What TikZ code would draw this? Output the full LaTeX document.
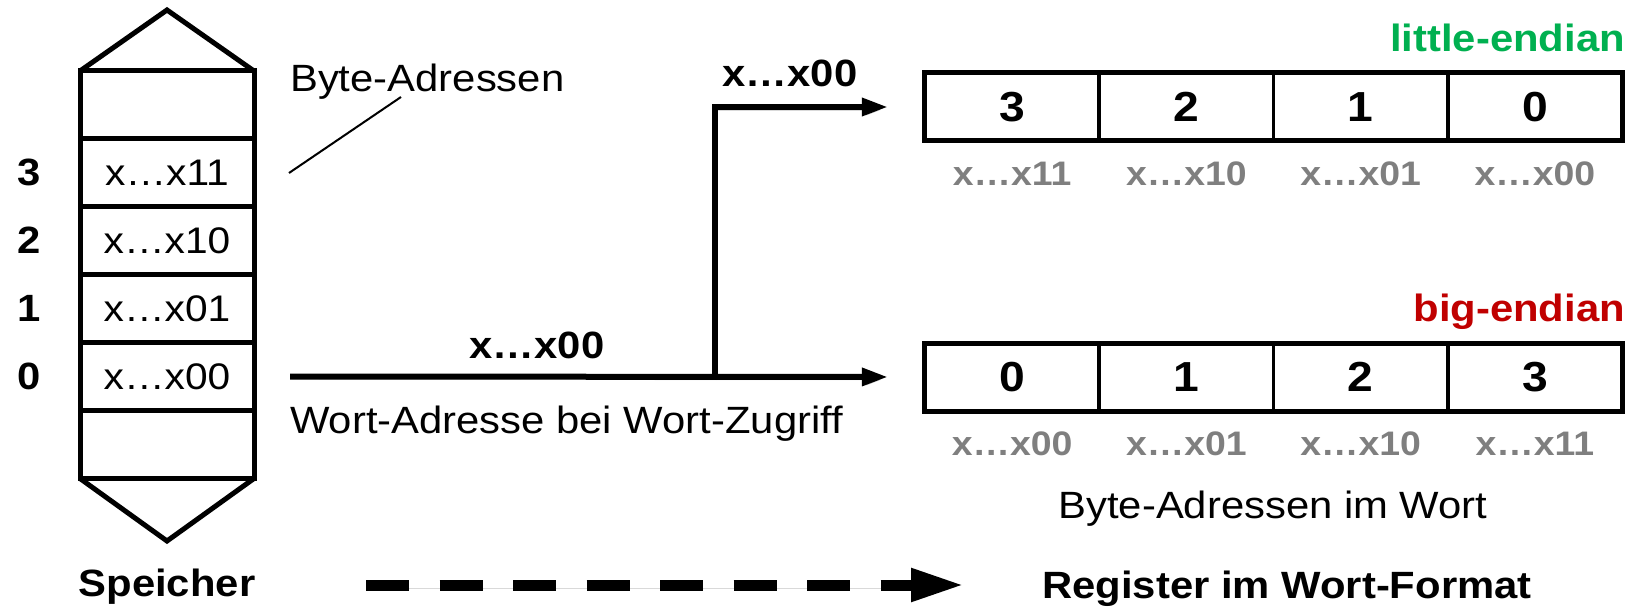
\documentclass[tikz,border=0pt]{standalone}
\usepackage{fontspec}
\setmainfont{Liberation Sans}[FakeStretch=1.1]
\usetikzlibrary{arrows.meta,calc}
\definecolor{legreen}{HTML}{00B050}
\definecolor{bered}{HTML}{C00000}
\definecolor{addrgray}{HTML}{7F7F7F}

\tikzset{
  txt/.style={font=\fontsize{38}{44}\selectfont, inner sep=0pt},
  txtbf/.style={font=\fontsize{38}{44}\selectfont\bfseries, inner sep=0pt},
  memcell/.style={draw, line width=5pt, minimum width=174pt, minimum height=68pt,
    inner sep=0pt, outer sep=0pt, font=\fontsize{37}{43}\selectfont},
  regcell/.style={draw, line width=3.5pt, minimum width=174.25pt, minimum height=68pt,
    inner sep=0pt, outer sep=0pt, font=\fontsize{42}{48}\selectfont\bfseries},
  graylabel/.style={font=\fontsize{34}{40}\selectfont\bfseries, text=addrgray,
    anchor=base, inner sep=0pt},
  shadowed/.style={preaction={draw=black, draw opacity=0.15, fill opacity=0.15,
    transform canvas={shift={(1.5pt,-3pt)}}}},
  busarrow/.style={line width=6pt, line join=miter, shadowed,
    -{Triangle[length=26pt,width=17pt]}},
  flowarrow/.style={line width=11pt, dash pattern=on 43pt off 30.5pt, shadowed,
    -{Triangle[length=53pt,width=31pt]}},
}

\begin{document}
\begin{tikzpicture}[x=1pt,y=-1pt]
\useasboundingbox (0,0) rectangle (1641,607);

% memory column
\node[memcell] (mtop) at (167,105) {};
\node[memcell] (m3) at (167,172.5) {x…x11};
\node[memcell] (m2) at (167,240.5) {x…x10};
\node[memcell] (m1) at (167,308.5) {x…x01};
\node[memcell] (m0) at (167,376.5) {x…x00};
\node[memcell] (mbot) at (167,444.5) {};
\coordinate (apexT) at (167,10);
\coordinate (apexB) at (167,541);
\draw[line width=5pt, line join=miter] (mtop.north west) -- (apexT) -- (mtop.north east);
\draw[line width=5pt, line join=miter] (mbot.south west) -- (apexB) -- (mbot.south east);

% byte numbers beside the memory cells
\node[txtbf] (n3) at (29,172.5) {3};
\node[txtbf] (n2) at (29,240.5) {2};
\node[txtbf] (n1) at (29,308.5) {1};
\node[txtbf] (n0) at (29,376.5) {0};

% byte address annotation
\node[txt, anchor=base west] (byteaddr) at (290,92) {Byte-Adressen};
\coordinate (leadA) at (401,97);
\coordinate (leadB) at (289,173);
\draw[line width=2pt] (leadA) -- (leadB);

% registers
\node[regcell] (lA) at (1012.1,107) {3};
\node[regcell] (lB) at (1186.4,107) {2};
\node[regcell] (lC) at (1360.6,107) {1};
\node[regcell] (lD) at (1534.9,107) {0};
\draw[line width=5pt] (lA.north west) rectangle (lD.south east);

\node[regcell] (bA) at (1012.1,377) {0};
\node[regcell] (bB) at (1186.4,377) {1};
\node[regcell] (bC) at (1360.6,377) {2};
\node[regcell] (bD) at (1534.9,377) {3};
\draw[line width=5pt] (bA.north west) rectangle (bD.south east);

\node[txtbf, text=legreen, anchor=base east] (little) at (1625,52) {little-endian};
\node[txtbf, text=bered, anchor=base east] (big) at (1625,321) {big-endian};

% byte addresses under the registers
\node[graylabel] (glA) at (1012.1,185) {x…x11};
\node[graylabel] (glB) at (1186.4,185) {x…x10};
\node[graylabel] (glC) at (1360.6,185) {x…x01};
\node[graylabel] (glD) at (1534.9,185) {x…x00};
\node[graylabel] (gbA) at (1012.1,455) {x…x00};
\node[graylabel] (gbB) at (1186.4,455) {x…x01};
\node[graylabel] (gbC) at (1360.6,455) {x…x10};
\node[graylabel] (gbD) at (1534.9,455) {x…x11};

\node[txt, anchor=base] (inword) at (1273,518) {Byte-Adressen im Wort};

% word address bus
\coordinate (split) at (715,377);
\draw[busarrow, shorten <=36pt, shorten >=37pt] (m0.east) -- (bA.west);
\draw[busarrow, shorten >=37pt] (split) |- (lA.west);
\node[txtbf, anchor=base] (addrlow) at (537,358) {x…x00};
\node[txtbf, anchor=base] (addrhigh) at (790,87) {x…x00};
\node[txt, anchor=base west] (wortaddr) at (290,433) {Wort-Adresse bei Wort-Zugriff};

% bottom captions
\node[txtbf, anchor=base] (speicher) at (167,596) {Speicher};
\node[txtbf, anchor=base] (regfmt) at (1287,598) {Register im Wort-Format};
\coordinate (flowS) at (366,585);
\coordinate (flowE) at (964,585);
\draw[flowarrow] (flowS) -- (flowE);
\end{tikzpicture}
\end{document}
